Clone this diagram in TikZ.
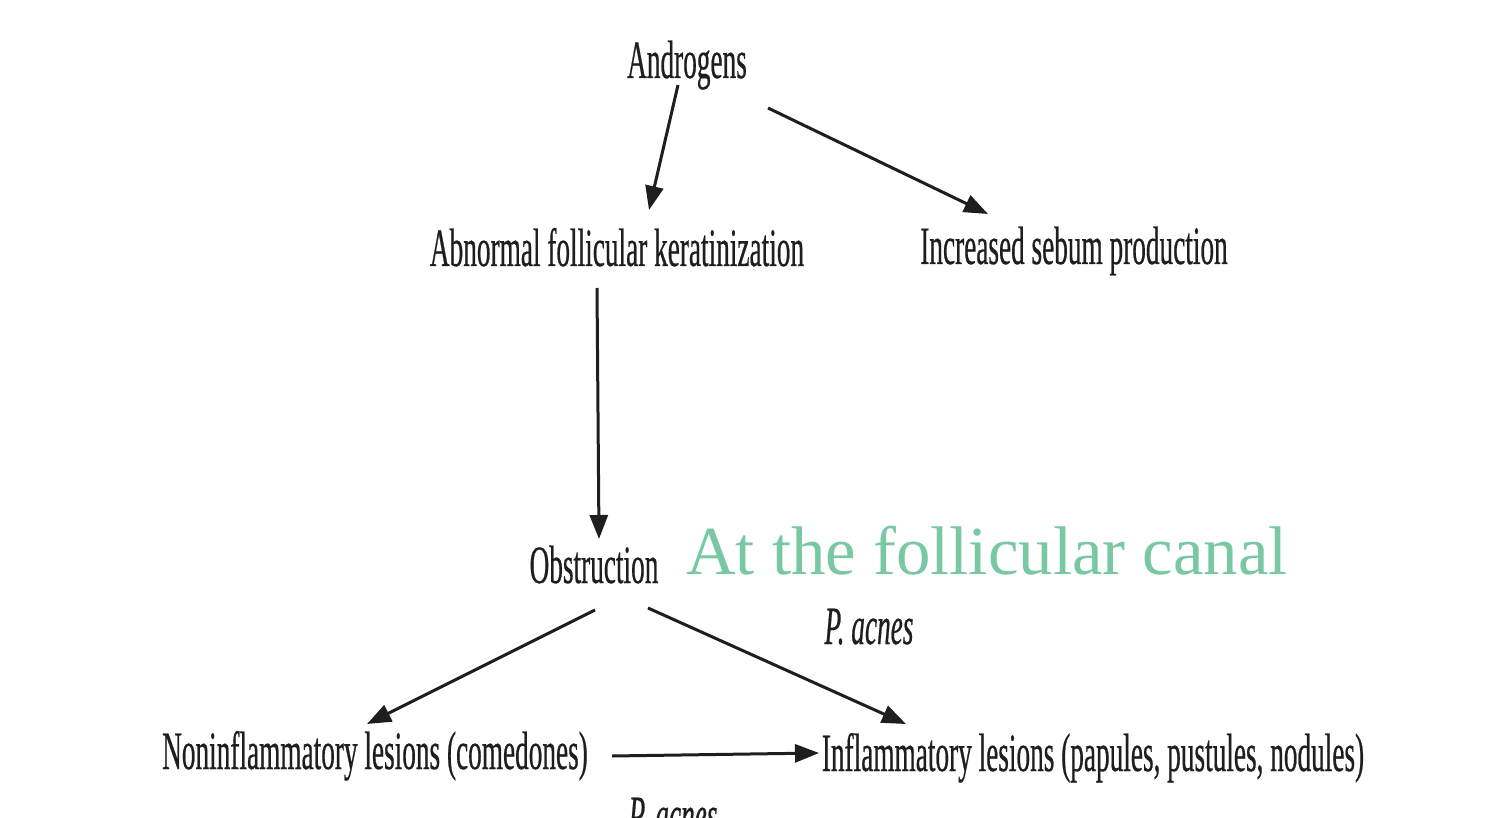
\documentclass[tikz,border=0pt]{standalone}
\usepackage{fontspec}
\usetikzlibrary{arrows.meta}
\newfontfamily\condfont[FakeStretch=0.505,FakeBold=0.4]{Liberation Serif}
\newfontfamily\condit[FakeStretch=0.505,FakeBold=0.4]{Liberation Serif Italic}
\setmainfont{Liberation Serif}
\definecolor{ink}{HTML}{1E1E1E}
\definecolor{mint}{HTML}{78C8A3}
\begin{document}
\begin{tikzpicture}[x=1pt,y=-1pt,
  lbl/.style={anchor=base,inner sep=0pt,text=ink,font=\fontsize{54}{60}\condfont},
  itl/.style={anchor=base,inner sep=0pt,text=ink,font=\fontsize{54}{60}\condit},
  note/.style={anchor=base,inner sep=0pt,text=mint,font=\fontsize{68.8}{78}\selectfont},
  arr/.style={draw=ink,line width=3pt,-{Triangle[length=24pt,width=18pt]}}]
\clip (0,0) rectangle (1504,818);
\fill[white] (0,0) rectangle (1504,818);
\node[lbl] (andr) at (687,78) {Androgens};
\node[lbl] (abn) at (617,266) {Abnormal follicular keratinization};
\node[lbl] (inc) at (1074,264) {Increased sebum production};
\node[lbl] (obs) at (594,583) {Obstruction};
\node[note] (canal) at (987,574) {At the follicular canal};
\node[itl] (pac1) at (869,644) {P. acnes};
\node[lbl] (non) at (375,769) {Noninflammatory lesions (comedones)};
\node[lbl] (inf) at (1093,771) {Inflammatory lesions (papules, pustules, nodules)};
\node[itl] (pac2) at (673,833) {P. acnes};
\coordinate (a1s) at (678,85);
\coordinate (a1e) at (649,210);
\coordinate (a2s) at (768,108);
\coordinate (a2e) at (988,214);
\coordinate (a3s) at (597,288);
\coordinate (a3e) at (599,539);
\coordinate (a4s) at (595,610);
\coordinate (a4e) at (367,724);
\coordinate (a5s) at (648,608);
\coordinate (a5e) at (906,724);
\coordinate (a6s) at (612,756);
\coordinate (a6e) at (819,753);
\draw[arr] (a1s) -- (a1e);
\draw[arr] (a2s) -- (a2e);
\draw[arr] (a3s) -- (a3e);
\draw[arr] (a4s) -- (a4e);
\draw[arr] (a5s) -- (a5e);
\draw[arr] (a6s) -- (a6e);
\end{tikzpicture}
\end{document}
